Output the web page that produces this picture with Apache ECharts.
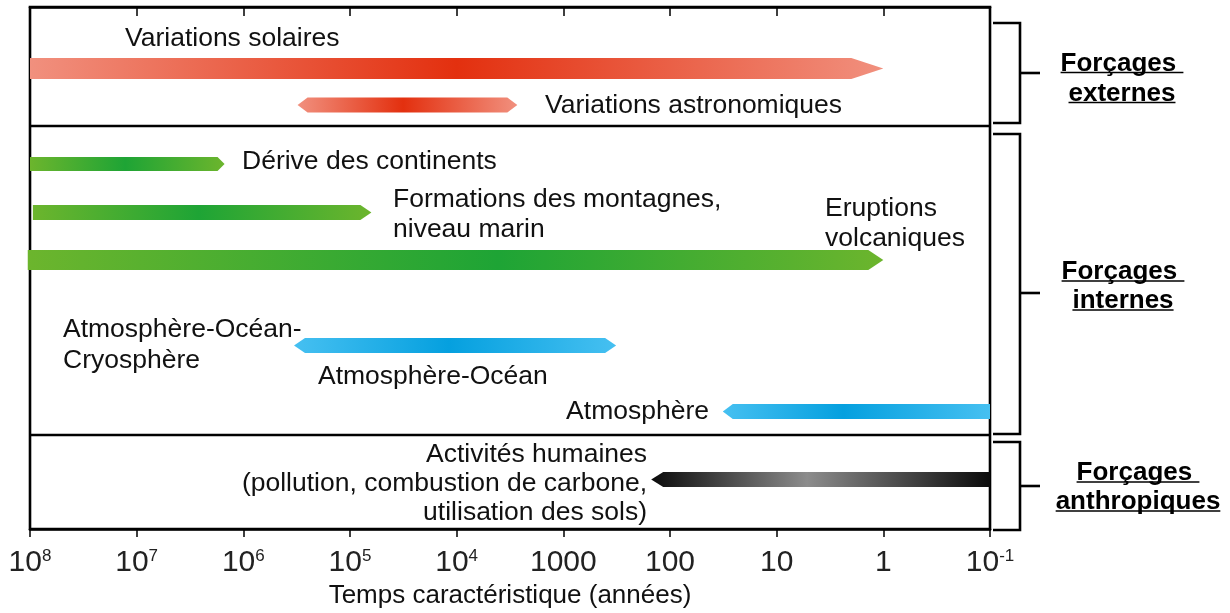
<!DOCTYPE html>
<html>
<head>
<meta charset="utf-8">
<script src="https://cdn.jsdelivr.net/npm/echarts@6/dist/echarts.min.js"></script>
<style>
  html, body { margin: 0; padding: 0; background: #fff; }
  #forcages { width: 1230px; height: 613px; }
</style>
</head>
<body>
<div id="forcages"></div>
<script>
// durées caractéristiques (années) : début (le plus long) -> fin (le plus court)
var processes = ['Variations solaires', 'Variations astronomiques', 'Dérive des continents',
  'Formations des montagnes, niveau marin', 'Eruptions volcaniques',
  'Atmosphère-Océan(-Cryosphère)', 'Atmosphère', 'Activités humaines'];
var timeLong = [1e8, 3.1e5, 1e8, 9.4e7, 1.05e8, 3.35e5, 32, 150];
var timeShort = [1, 2700, 1.5e6, 6.3e4, 1, 320, 0.1, 0.1];
var tickValues = [1e8, 1e7, 1e6, 1e5, 1e4, 1000, 100, 10, 1, 0.1];
var tickLabels = ['10^8', '10^7', '10^6', '10^5', '10^4', '1000', '100', '10', '1', '10^-1'];

var FONT = '"Liberation Sans", Arial, Helvetica, sans-serif';

// mise en forme des flèches (y en pixels, hauteur, pointe)
var palettes = {
  red: ['#f1907e', '#e3300f'],
  green: ['#6cb52d', '#1ea435'],
  blue: ['#46c0f1', '#05a0df'],
  black: ['#0b0b0b', '#8c8c8c']
};
var arrows = [
  {y: 68.5, h: 21, head: 32, left: false, right: true, pal: 'red', mid: 0.5},
  {y: 105, h: 15, head: 10, left: true, right: true, pal: 'red', mid: 0.48},
  {y: 164, h: 14, head: 7, left: false, right: true, pal: 'green', mid: 0.49},
  {y: 212.5, h: 15, head: 11, left: false, right: true, pal: 'green', mid: 0.49},
  {y: 260, h: 20, head: 15, left: false, right: true, pal: 'green', mid: 0.55},
  {y: 345.5, h: 15, head: 11, left: true, right: true, pal: 'blue', mid: 0.48},
  {y: 411.5, h: 15, head: 10, left: true, right: false, pal: 'blue', mid: 0.45},
  {y: 479.5, h: 15, head: 12, left: true, right: false, pal: 'black', mid: 0.46}
];

var chartDom = document.getElementById('forcages');
var myChart = echarts.init(chartDom);
var option;

function tickText(v) {
  var best = 0;
  for (var i = 1; i < tickValues.length; i++) {
    if (Math.abs(Math.log10(tickValues[i]) - Math.log10(v)) < Math.abs(Math.log10(tickValues[best]) - Math.log10(v))) best = i;
  }
  var parts = tickLabels[best].split('^');
  return parts.length > 1 ? parts[0] + '{sup|' + parts[1] + '}' : parts[0];
}

function renderArrow(params, api) {
  var a = arrows[params.dataIndex];
  var p0 = api.coord([api.value(0), a.y]);
  var p1 = api.coord([api.value(1), a.y]);
  var x0 = Math.min(p0[0], p1[0]), x1 = Math.max(p0[0], p1[0]);
  var y = p0[1], h = a.h / 2;
  var pts = [];
  pts.push(a.left ? [x0 + a.head, y - h] : [x0, y - h]);
  if (a.right) {
    pts.push([x1 - a.head, y - h], [x1, y], [x1 - a.head, y + h]);
  } else {
    pts.push([x1, y - h], [x1, y + h]);
  }
  if (a.left) {
    pts.push([x0 + a.head, y + h], [x0, y]);
  } else {
    pts.push([x0, y + h]);
  }
  var c = palettes[a.pal];
  return {
    type: 'polygon',
    shape: {points: pts},
    style: {
      fill: new echarts.graphic.LinearGradient(0, 0, 1, 0, [
        {offset: 0, color: c[0]},
        {offset: a.mid, color: c[1]},
        {offset: 1, color: c[0]}
      ])
    }
  };
}

// textes annotés dans le graphique
function label(text, x, y, align, lh) {
  return {
    type: 'text', x: x, y: y + 1.5, z: 10,
    style: {
      text: text, fontSize: 26.5, fontFamily: FONT, fill: '#111',
      align: align || 'left', verticalAlign: 'middle', lineHeight: lh || 30
    }
  };
}

var measureCtx = document.createElement('canvas').getContext('2d');
function textWidth(t) {
  measureCtx.font = 'bold 26px ' + FONT;
  return measureCtx.measureText(t).width;
}

// accolades + titres soulignés à droite
function bracket(top, bottom, tickY, cx, line1Y, line2, line2Y) {
  var els = [];
  var ls = {stroke: '#000', lineWidth: 2.6, fill: null};
  els.push({type: 'polyline', shape: {points: [[993, top], [1020, top], [1020, bottom], [993, bottom]]}, style: ls});
  els.push({type: 'line', shape: {x1: 1020, y1: tickY, x2: 1040, y2: tickY}, style: ls});
  [['Forçages ', line1Y], [line2, line2Y]].forEach(function (l) {
    els.push({
      type: 'text', x: cx, y: l[1] + 1,
      style: {text: l[0], fontSize: 26, fontWeight: 'bold', fontFamily: FONT, fill: '#000', align: 'center', verticalAlign: 'middle'}
    });
    var w = textWidth(l[0]);
    els.push({type: 'line', shape: {x1: cx - w / 2, y1: l[1] + 10, x2: cx + w / 2, y2: l[1] + 10}, style: {stroke: '#000', lineWidth: 1.5}});
  });
  return els;
}

var graphics = [
  {type: 'line', shape: {x1: 30, y1: 126, x2: 990, y2: 126}, style: {stroke: '#000', lineWidth: 2.6}, z: 5},
  {type: 'line', shape: {x1: 30, y1: 435, x2: 990, y2: 435}, style: {stroke: '#000', lineWidth: 2.6}, z: 5},
  label('Variations solaires', 125, 37),
  label('Variations astronomiques', 545, 104),
  label('Dérive des continents', 242, 160),
  label('Formations des montagnes,\nniveau marin', 393, 213),
  label('Eruptions\nvolcaniques', 825, 222),
  label('Atmosphère-Océan-\nCryosphère', 63, 344, 'left', 31),
  label('Atmosphère-Océan', 318, 375),
  label('Atmosphère', 709, 410, 'right'),
  label('Activités humaines\n(pollution, combustion de carbone,\nutilisation des sols)', 647, 482, 'right', 29)
].concat(
  bracket(23, 123, 73, 1122, 62.5, 'externes', 92.5),
  bracket(134, 434, 293, 1123, 271, 'internes', 300),
  bracket(442, 530, 486, 1138, 472, 'anthropiques', 501)
);

option = {
  animation: false,
  backgroundColor: '#fff',
  grid: {
    left: 30, right: 240, top: 7, bottom: 84,
    show: true, borderColor: '#000', borderWidth: 2.6,
    outerBoundsMode: 'none'
  },
  xAxis: [{
    type: 'log', logBase: 10, min: 0.1, max: 1e8, inverse: true, position: 'bottom',
    axisLine: {show: true, lineStyle: {color: '#000', width: 2.6}},
    axisTick: {show: true, inside: false, length: 8, lineStyle: {color: '#000', width: 1.5}},
    splitLine: {show: false},
    axisLabel: {
      margin: 19, fontSize: 30, color: '#222', fontFamily: FONT,
      showMinLabel: true, showMaxLabel: true, hideOverlap: false,
      formatter: tickText,
      rich: {sup: {fontSize: 17, color: '#222', fontFamily: FONT, verticalAlign: 'top'}}
    },
    name: 'Temps caractéristique (années)',
    nameLocation: 'middle', nameGap: 45,
    nameTextStyle: {fontSize: 26, color: '#111', fontFamily: FONT}
  }, {
    type: 'log', logBase: 10, min: 0.1, max: 1e8, inverse: true, position: 'top',
    axisLine: {show: true, lineStyle: {color: '#000', width: 2.6}},
    axisTick: {show: true, inside: true, length: 9, lineStyle: {color: '#000', width: 1.5}},
    axisLabel: {show: false},
    splitLine: {show: false}
  }],
  yAxis: {type: 'value', min: 7, max: 529, inverse: true, show: false},
  series: [{
    type: 'custom',
    name: 'Forçages',
    xAxisIndex: 0,
    clip: false,
    renderItem: renderArrow,
    data: processes.map(function (n, i) { return [timeLong[i], timeShort[i], n]; })
  }],
  graphic: graphics
};

option && myChart.setOption(option);
</script>
</body>
</html>
